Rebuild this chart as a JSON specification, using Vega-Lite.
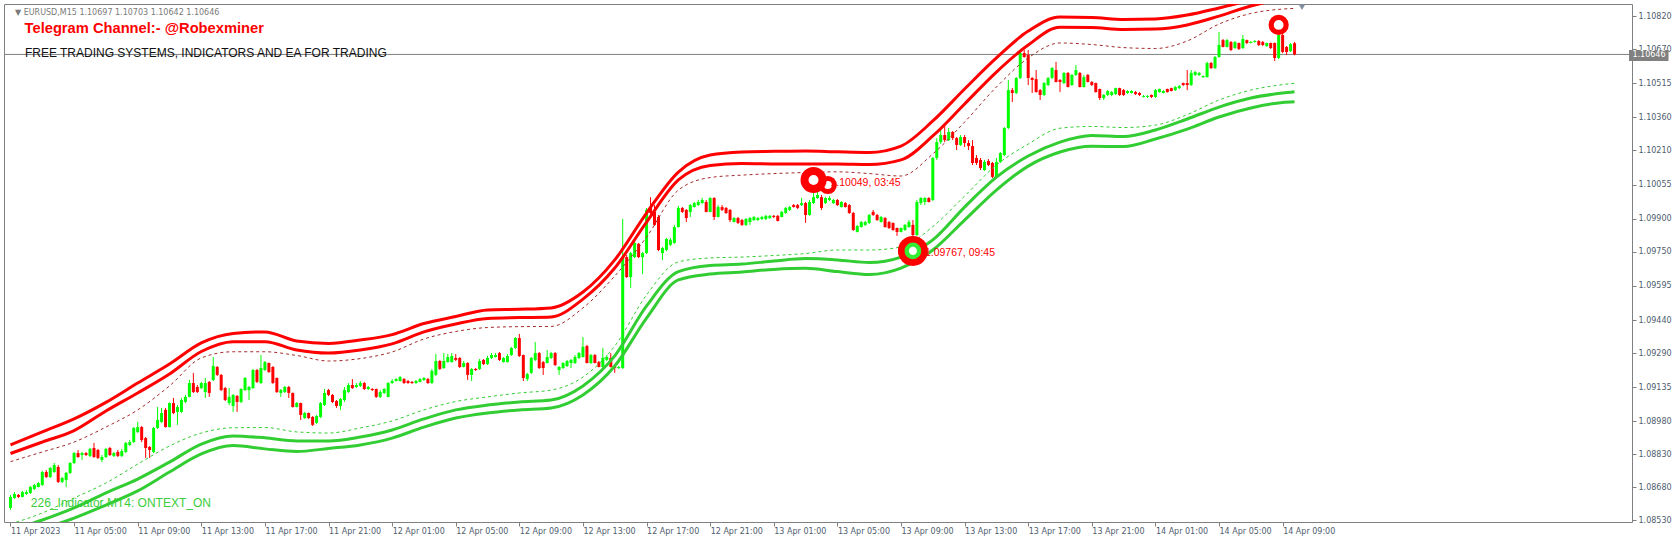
{
"$schema":"https://vega.github.io/schema/vega-lite/v6.json",
"width":1628,"height":518,
"autosize":{"type":"none"},
"padding":{"left":4,"top":4,"right":48,"bottom":23},
"background":"white",
"config":{"view":{"stroke":"#808080","strokeWidth":1},"axis":{"grid":false,"domain":false,"labelOverlap":false,"labelSeparation":0,"labelBound":false}},
"datasets":{
"candles":[
{"t":"2023-04-11T01:00","o":1.08587,"h":1.08646,"l":1.08578,"c":1.08637},
{"t":"2023-04-11T01:15","o":1.08632,"h":1.08659,"l":1.08628,"c":1.08650},
{"t":"2023-04-11T01:30","o":1.08646,"h":1.08650,"l":1.08632,"c":1.08637},
{"t":"2023-04-11T01:45","o":1.08637,"h":1.08664,"l":1.08635,"c":1.08659},
{"t":"2023-04-11T02:00","o":1.08650,"h":1.08668,"l":1.08646,"c":1.08659},
{"t":"2023-04-11T02:15","o":1.08655,"h":1.08687,"l":1.08650,"c":1.08682},
{"t":"2023-04-11T02:30","o":1.08673,"h":1.08696,"l":1.08668,"c":1.08691},
{"t":"2023-04-11T02:45","o":1.08682,"h":1.08705,"l":1.08680,"c":1.08700},
{"t":"2023-04-11T03:00","o":1.08691,"h":1.08755,"l":1.08687,"c":1.08750},
{"t":"2023-04-11T03:15","o":1.08750,"h":1.08759,"l":1.08723,"c":1.08727},
{"t":"2023-04-11T03:30","o":1.08727,"h":1.08773,"l":1.08723,"c":1.08768},
{"t":"2023-04-11T03:45","o":1.08750,"h":1.08791,"l":1.08746,"c":1.08782},
{"t":"2023-04-11T04:00","o":1.08773,"h":1.08782,"l":1.08700,"c":1.08705},
{"t":"2023-04-11T04:15","o":1.08705,"h":1.08727,"l":1.08700,"c":1.08723},
{"t":"2023-04-11T04:30","o":1.08714,"h":1.08750,"l":1.08682,"c":1.08746},
{"t":"2023-04-11T04:45","o":1.08746,"h":1.08795,"l":1.08741,"c":1.08791},
{"t":"2023-04-11T05:00","o":1.08791,"h":1.08841,"l":1.08786,"c":1.08836},
{"t":"2023-04-11T05:15","o":1.08836,"h":1.08850,"l":1.08814,"c":1.08818},
{"t":"2023-04-11T05:30","o":1.08827,"h":1.08841,"l":1.08805,"c":1.08836},
{"t":"2023-04-11T05:45","o":1.08836,"h":1.08841,"l":1.08823,"c":1.08827},
{"t":"2023-04-11T06:00","o":1.08823,"h":1.08859,"l":1.08818,"c":1.08855},
{"t":"2023-04-11T06:15","o":1.08859,"h":1.08882,"l":1.08814,"c":1.08818},
{"t":"2023-04-11T06:30","o":1.08850,"h":1.08855,"l":1.08809,"c":1.08814},
{"t":"2023-04-11T06:45","o":1.08805,"h":1.08827,"l":1.08795,"c":1.08818},
{"t":"2023-04-11T07:00","o":1.08818,"h":1.08859,"l":1.08814,"c":1.08855},
{"t":"2023-04-11T07:15","o":1.08859,"h":1.08864,"l":1.08823,"c":1.08827},
{"t":"2023-04-11T07:30","o":1.08823,"h":1.08841,"l":1.08818,"c":1.08836},
{"t":"2023-04-11T07:45","o":1.08841,"h":1.08850,"l":1.08818,"c":1.08823},
{"t":"2023-04-11T08:00","o":1.08823,"h":1.08855,"l":1.08818,"c":1.08845},
{"t":"2023-04-11T08:15","o":1.08841,"h":1.08886,"l":1.08836,"c":1.08882},
{"t":"2023-04-11T08:30","o":1.08873,"h":1.08895,"l":1.08868,"c":1.08886},
{"t":"2023-04-11T08:45","o":1.08886,"h":1.08954,"l":1.08882,"c":1.08950},
{"t":"2023-04-11T09:00","o":1.08932,"h":1.08977,"l":1.08927,"c":1.08954},
{"t":"2023-04-11T09:15","o":1.08954,"h":1.08959,"l":1.08886,"c":1.08895},
{"t":"2023-04-11T09:30","o":1.08904,"h":1.08909,"l":1.08814,"c":1.08859},
{"t":"2023-04-11T09:45","o":1.08864,"h":1.08868,"l":1.08814,"c":1.08850},
{"t":"2023-04-11T10:00","o":1.08841,"h":1.08954,"l":1.08836,"c":1.08950},
{"t":"2023-04-11T10:15","o":1.08950,"h":1.09045,"l":1.08945,"c":1.08986},
{"t":"2023-04-11T10:30","o":1.08977,"h":1.09041,"l":1.08973,"c":1.09018},
{"t":"2023-04-11T10:45","o":1.09032,"h":1.09041,"l":1.08952,"c":1.08954},
{"t":"2023-04-11T11:00","o":1.08954,"h":1.09066,"l":1.08952,"c":1.09063},
{"t":"2023-04-11T11:15","o":1.09063,"h":1.09086,"l":1.09013,"c":1.09018},
{"t":"2023-04-11T11:30","o":1.09023,"h":1.09054,"l":1.08964,"c":1.09045},
{"t":"2023-04-11T11:45","o":1.09023,"h":1.09086,"l":1.09018,"c":1.09077},
{"t":"2023-04-11T12:00","o":1.09068,"h":1.09100,"l":1.09063,"c":1.09091},
{"t":"2023-04-11T12:15","o":1.09091,"h":1.09168,"l":1.09089,"c":1.09154},
{"t":"2023-04-11T12:30","o":1.09154,"h":1.09200,"l":1.09109,"c":1.09113},
{"t":"2023-04-11T12:45","o":1.09136,"h":1.09145,"l":1.09109,"c":1.09113},
{"t":"2023-04-11T13:00","o":1.09131,"h":1.09159,"l":1.09127,"c":1.09154},
{"t":"2023-04-11T13:15","o":1.09113,"h":1.09177,"l":1.09086,"c":1.09154},
{"t":"2023-04-11T13:30","o":1.09159,"h":1.09163,"l":1.09091,"c":1.09109},
{"t":"2023-04-11T13:45","o":1.09168,"h":1.09272,"l":1.09163,"c":1.09231},
{"t":"2023-04-11T14:00","o":1.09227,"h":1.09231,"l":1.09186,"c":1.09191},
{"t":"2023-04-11T14:15","o":1.09191,"h":1.09195,"l":1.09118,"c":1.09122},
{"t":"2023-04-11T14:30","o":1.09131,"h":1.09136,"l":1.09072,"c":1.09077},
{"t":"2023-04-11T14:45","o":1.09063,"h":1.09131,"l":1.09054,"c":1.09091},
{"t":"2023-04-11T15:00","o":1.09050,"h":1.09104,"l":1.09023,"c":1.09100},
{"t":"2023-04-11T15:15","o":1.09095,"h":1.09100,"l":1.09023,"c":1.09068},
{"t":"2023-04-11T15:30","o":1.09068,"h":1.09131,"l":1.09063,"c":1.09127},
{"t":"2023-04-11T15:45","o":1.09122,"h":1.09181,"l":1.09118,"c":1.09177},
{"t":"2023-04-11T16:00","o":1.09122,"h":1.09141,"l":1.09077,"c":1.09136},
{"t":"2023-04-11T16:15","o":1.09131,"h":1.09218,"l":1.09127,"c":1.09213},
{"t":"2023-04-11T16:30","o":1.09213,"h":1.09218,"l":1.09154,"c":1.09159},
{"t":"2023-04-11T16:45","o":1.09154,"h":1.09281,"l":1.09150,"c":1.09222},
{"t":"2023-04-11T17:00","o":1.09213,"h":1.09254,"l":1.09209,"c":1.09249},
{"t":"2023-04-11T17:15","o":1.09245,"h":1.09247,"l":1.09200,"c":1.09204},
{"t":"2023-04-11T17:30","o":1.09227,"h":1.09231,"l":1.09150,"c":1.09154},
{"t":"2023-04-11T17:45","o":1.09177,"h":1.09179,"l":1.09109,"c":1.09113},
{"t":"2023-04-11T18:00","o":1.09109,"h":1.09127,"l":1.09091,"c":1.09122},
{"t":"2023-04-11T18:15","o":1.09113,"h":1.09141,"l":1.09109,"c":1.09136},
{"t":"2023-04-11T18:30","o":1.09136,"h":1.09141,"l":1.09086,"c":1.09109},
{"t":"2023-04-11T18:45","o":1.09109,"h":1.09111,"l":1.09043,"c":1.09045},
{"t":"2023-04-11T19:00","o":1.09045,"h":1.09068,"l":1.09043,"c":1.09063},
{"t":"2023-04-11T19:15","o":1.09063,"h":1.09065,"l":1.08986,"c":1.09009},
{"t":"2023-04-11T19:30","o":1.08995,"h":1.09023,"l":1.08991,"c":1.09018},
{"t":"2023-04-11T19:45","o":1.09018,"h":1.09020,"l":1.08991,"c":1.08995},
{"t":"2023-04-11T20:00","o":1.09000,"h":1.09004,"l":1.08959,"c":1.08964},
{"t":"2023-04-11T20:15","o":1.08973,"h":1.09009,"l":1.08968,"c":1.09004},
{"t":"2023-04-11T20:30","o":1.09000,"h":1.09068,"l":1.08995,"c":1.09063},
{"t":"2023-04-11T20:45","o":1.09054,"h":1.09127,"l":1.09050,"c":1.09109},
{"t":"2023-04-11T21:00","o":1.09122,"h":1.09127,"l":1.09095,"c":1.09100},
{"t":"2023-04-11T21:15","o":1.09100,"h":1.09104,"l":1.09063,"c":1.09068},
{"t":"2023-04-11T21:30","o":1.09072,"h":1.09077,"l":1.09041,"c":1.09050},
{"t":"2023-04-11T21:45","o":1.09050,"h":1.09086,"l":1.09032,"c":1.09082},
{"t":"2023-04-11T22:00","o":1.09077,"h":1.09136,"l":1.09068,"c":1.09122},
{"t":"2023-04-11T22:15","o":1.09113,"h":1.09154,"l":1.09109,"c":1.09145},
{"t":"2023-04-11T22:30","o":1.09145,"h":1.09172,"l":1.09127,"c":1.09131},
{"t":"2023-04-11T22:45","o":1.09136,"h":1.09154,"l":1.09131,"c":1.09145},
{"t":"2023-04-11T23:00","o":1.09141,"h":1.09163,"l":1.09136,"c":1.09154},
{"t":"2023-04-11T23:15","o":1.09154,"h":1.09159,"l":1.09122,"c":1.09127},
{"t":"2023-04-11T23:30","o":1.09127,"h":1.09141,"l":1.09122,"c":1.09136},
{"t":"2023-04-11T23:45","o":1.09127,"h":1.09131,"l":1.09118,"c":1.09122},
{"t":"2023-04-12T00:00","o":1.09127,"h":1.09129,"l":1.09086,"c":1.09091},
{"t":"2023-04-12T00:15","o":1.09091,"h":1.09122,"l":1.09086,"c":1.09113},
{"t":"2023-04-12T00:30","o":1.09109,"h":1.09131,"l":1.09104,"c":1.09127},
{"t":"2023-04-12T00:45","o":1.09091,"h":1.09159,"l":1.09089,"c":1.09154},
{"t":"2023-04-12T01:00","o":1.09154,"h":1.09172,"l":1.09150,"c":1.09163},
{"t":"2023-04-12T01:15","o":1.09163,"h":1.09177,"l":1.09161,"c":1.09172},
{"t":"2023-04-12T01:30","o":1.09163,"h":1.09186,"l":1.09161,"c":1.09181},
{"t":"2023-04-12T01:45","o":1.09172,"h":1.09177,"l":1.09150,"c":1.09154},
{"t":"2023-04-12T02:00","o":1.09163,"h":1.09168,"l":1.09150,"c":1.09154},
{"t":"2023-04-12T02:15","o":1.09159,"h":1.09163,"l":1.09150,"c":1.09154},
{"t":"2023-04-12T02:30","o":1.09154,"h":1.09168,"l":1.09150,"c":1.09163},
{"t":"2023-04-12T02:45","o":1.09159,"h":1.09177,"l":1.09157,"c":1.09172},
{"t":"2023-04-12T03:00","o":1.09168,"h":1.09181,"l":1.09163,"c":1.09177},
{"t":"2023-04-12T03:15","o":1.09172,"h":1.09177,"l":1.09150,"c":1.09154},
{"t":"2023-04-12T03:30","o":1.09154,"h":1.09218,"l":1.09150,"c":1.09209},
{"t":"2023-04-12T03:45","o":1.09191,"h":1.09286,"l":1.09186,"c":1.09254},
{"t":"2023-04-12T04:00","o":1.09254,"h":1.09259,"l":1.09213,"c":1.09218},
{"t":"2023-04-12T04:15","o":1.09222,"h":1.09290,"l":1.09218,"c":1.09254},
{"t":"2023-04-12T04:30","o":1.09249,"h":1.09286,"l":1.09247,"c":1.09272},
{"t":"2023-04-12T04:45","o":1.09249,"h":1.09290,"l":1.09247,"c":1.09277},
{"t":"2023-04-12T05:00","o":1.09268,"h":1.09286,"l":1.09254,"c":1.09259},
{"t":"2023-04-12T05:15","o":1.09268,"h":1.09272,"l":1.09222,"c":1.09227},
{"t":"2023-04-12T05:30","o":1.09227,"h":1.09254,"l":1.09225,"c":1.09245},
{"t":"2023-04-12T05:45","o":1.09245,"h":1.09249,"l":1.09168,"c":1.09191},
{"t":"2023-04-12T06:00","o":1.09191,"h":1.09222,"l":1.09163,"c":1.09218},
{"t":"2023-04-12T06:15","o":1.09218,"h":1.09222,"l":1.09209,"c":1.09213},
{"t":"2023-04-12T06:30","o":1.09218,"h":1.09263,"l":1.09213,"c":1.09254},
{"t":"2023-04-12T06:45","o":1.09259,"h":1.09263,"l":1.09236,"c":1.09240},
{"t":"2023-04-12T07:00","o":1.09240,"h":1.09277,"l":1.09236,"c":1.09268},
{"t":"2023-04-12T07:15","o":1.09268,"h":1.09290,"l":1.09263,"c":1.09281},
{"t":"2023-04-12T07:30","o":1.09272,"h":1.09290,"l":1.09270,"c":1.09281},
{"t":"2023-04-12T07:45","o":1.09290,"h":1.09295,"l":1.09254,"c":1.09259},
{"t":"2023-04-12T08:00","o":1.09249,"h":1.09272,"l":1.09247,"c":1.09268},
{"t":"2023-04-12T08:15","o":1.09249,"h":1.09286,"l":1.09247,"c":1.09277},
{"t":"2023-04-12T08:30","o":1.09281,"h":1.09318,"l":1.09277,"c":1.09313},
{"t":"2023-04-12T08:45","o":1.09313,"h":1.09363,"l":1.09308,"c":1.09358},
{"t":"2023-04-12T09:00","o":1.09358,"h":1.09377,"l":1.09272,"c":1.09277},
{"t":"2023-04-12T09:15","o":1.09281,"h":1.09283,"l":1.09163,"c":1.09177},
{"t":"2023-04-12T09:30","o":1.09172,"h":1.09200,"l":1.09163,"c":1.09195},
{"t":"2023-04-12T09:45","o":1.09200,"h":1.09272,"l":1.09195,"c":1.09268},
{"t":"2023-04-12T10:00","o":1.09259,"h":1.09340,"l":1.09254,"c":1.09290},
{"t":"2023-04-12T10:15","o":1.09290,"h":1.09295,"l":1.09218,"c":1.09222},
{"t":"2023-04-12T10:30","o":1.09249,"h":1.09254,"l":1.09191,"c":1.09222},
{"t":"2023-04-12T10:45","o":1.09245,"h":1.09304,"l":1.09243,"c":1.09272},
{"t":"2023-04-12T11:00","o":1.09268,"h":1.09295,"l":1.09263,"c":1.09290},
{"t":"2023-04-12T11:15","o":1.09290,"h":1.09295,"l":1.09231,"c":1.09236},
{"t":"2023-04-12T11:30","o":1.09213,"h":1.09231,"l":1.09191,"c":1.09227},
{"t":"2023-04-12T11:45","o":1.09222,"h":1.09249,"l":1.09218,"c":1.09245},
{"t":"2023-04-12T12:00","o":1.09231,"h":1.09259,"l":1.09227,"c":1.09254},
{"t":"2023-04-12T12:15","o":1.09245,"h":1.09263,"l":1.09222,"c":1.09259},
{"t":"2023-04-12T12:30","o":1.09245,"h":1.09281,"l":1.09240,"c":1.09272},
{"t":"2023-04-12T12:45","o":1.09268,"h":1.09295,"l":1.09263,"c":1.09290},
{"t":"2023-04-12T13:00","o":1.09272,"h":1.09363,"l":1.09270,"c":1.09318},
{"t":"2023-04-12T13:15","o":1.09322,"h":1.09327,"l":1.09243,"c":1.09245},
{"t":"2023-04-12T13:30","o":1.09245,"h":1.09286,"l":1.09240,"c":1.09281},
{"t":"2023-04-12T13:45","o":1.09281,"h":1.09286,"l":1.09243,"c":1.09245},
{"t":"2023-04-12T14:00","o":1.09249,"h":1.09254,"l":1.09225,"c":1.09227},
{"t":"2023-04-12T14:15","o":1.09227,"h":1.09313,"l":1.09225,"c":1.09268},
{"t":"2023-04-12T14:30","o":1.09259,"h":1.09281,"l":1.09254,"c":1.09272},
{"t":"2023-04-12T14:45","o":1.09268,"h":1.09290,"l":1.09225,"c":1.09227},
{"t":"2023-04-12T15:00","o":1.09227,"h":1.09231,"l":1.09200,"c":1.09222},
{"t":"2023-04-12T15:15","o":1.09222,"h":1.09231,"l":1.09218,"c":1.09227},
{"t":"2023-04-12T15:30","o":1.09222,"h":1.09899,"l":1.09218,"c":1.09726},
{"t":"2023-04-12T15:45","o":1.09726,"h":1.09735,"l":1.09631,"c":1.09635},
{"t":"2023-04-12T16:00","o":1.09635,"h":1.09749,"l":1.09586,"c":1.09744},
{"t":"2023-04-12T16:15","o":1.09726,"h":1.09794,"l":1.09721,"c":1.09790},
{"t":"2023-04-12T16:30","o":1.09786,"h":1.09790,"l":1.09721,"c":1.09726},
{"t":"2023-04-12T16:45","o":1.09726,"h":1.09749,"l":1.09649,"c":1.09744},
{"t":"2023-04-12T17:00","o":1.09744,"h":1.09949,"l":1.09740,"c":1.09940},
{"t":"2023-04-12T17:15","o":1.09949,"h":1.09998,"l":1.09922,"c":1.09926},
{"t":"2023-04-12T17:30","o":1.09931,"h":1.09962,"l":1.09867,"c":1.09872},
{"t":"2023-04-12T17:45","o":1.09908,"h":1.09917,"l":1.09753,"c":1.09758},
{"t":"2023-04-12T18:00","o":1.09744,"h":1.09772,"l":1.09712,"c":1.09767},
{"t":"2023-04-12T18:15","o":1.09758,"h":1.09813,"l":1.09753,"c":1.09808},
{"t":"2023-04-12T18:30","o":1.09781,"h":1.09813,"l":1.09776,"c":1.09804},
{"t":"2023-04-12T18:45","o":1.09790,"h":1.09872,"l":1.09786,"c":1.09862},
{"t":"2023-04-12T19:00","o":1.09862,"h":1.09958,"l":1.09860,"c":1.09949},
{"t":"2023-04-12T19:15","o":1.09949,"h":1.09953,"l":1.09926,"c":1.09931},
{"t":"2023-04-12T19:30","o":1.09940,"h":1.09944,"l":1.09885,"c":1.09903},
{"t":"2023-04-12T19:45","o":1.09931,"h":1.09967,"l":1.09908,"c":1.09962},
{"t":"2023-04-12T20:00","o":1.09953,"h":1.09976,"l":1.09951,"c":1.09971},
{"t":"2023-04-12T20:15","o":1.09962,"h":1.09985,"l":1.09958,"c":1.09976},
{"t":"2023-04-12T20:30","o":1.09971,"h":1.09994,"l":1.09967,"c":1.09985},
{"t":"2023-04-12T20:45","o":1.09976,"h":1.09985,"l":1.09929,"c":1.09931},
{"t":"2023-04-12T21:00","o":1.09931,"h":1.09998,"l":1.09929,"c":1.09994},
{"t":"2023-04-12T21:15","o":1.09994,"h":1.09998,"l":1.09894,"c":1.09908},
{"t":"2023-04-12T21:30","o":1.09908,"h":1.09962,"l":1.09906,"c":1.09953},
{"t":"2023-04-12T21:45","o":1.09953,"h":1.09962,"l":1.09935,"c":1.09940},
{"t":"2023-04-12T22:00","o":1.09949,"h":1.09953,"l":1.09922,"c":1.09926},
{"t":"2023-04-12T22:15","o":1.09940,"h":1.09944,"l":1.09885,"c":1.09894},
{"t":"2023-04-12T22:30","o":1.09885,"h":1.09908,"l":1.09883,"c":1.09903},
{"t":"2023-04-12T22:45","o":1.09903,"h":1.09908,"l":1.09876,"c":1.09881},
{"t":"2023-04-12T23:00","o":1.09894,"h":1.09899,"l":1.09867,"c":1.09872},
{"t":"2023-04-12T23:15","o":1.09872,"h":1.09903,"l":1.09867,"c":1.09899},
{"t":"2023-04-12T23:30","o":1.09885,"h":1.09908,"l":1.09872,"c":1.09903},
{"t":"2023-04-12T23:45","o":1.09894,"h":1.09913,"l":1.09890,"c":1.09908},
{"t":"2023-04-13T00:00","o":1.09894,"h":1.09908,"l":1.09890,"c":1.09903},
{"t":"2023-04-13T00:15","o":1.09899,"h":1.09913,"l":1.09894,"c":1.09908},
{"t":"2023-04-13T00:30","o":1.09899,"h":1.09917,"l":1.09894,"c":1.09913},
{"t":"2023-04-13T00:45","o":1.09903,"h":1.09917,"l":1.09899,"c":1.09913},
{"t":"2023-04-13T01:00","o":1.09913,"h":1.09917,"l":1.09903,"c":1.09908},
{"t":"2023-04-13T01:15","o":1.09913,"h":1.09917,"l":1.09888,"c":1.09890},
{"t":"2023-04-13T01:30","o":1.09908,"h":1.09935,"l":1.09906,"c":1.09931},
{"t":"2023-04-13T01:45","o":1.09926,"h":1.09953,"l":1.09922,"c":1.09949},
{"t":"2023-04-13T02:00","o":1.09940,"h":1.09958,"l":1.09935,"c":1.09953},
{"t":"2023-04-13T02:15","o":1.09962,"h":1.09967,"l":1.09951,"c":1.09953},
{"t":"2023-04-13T02:30","o":1.09962,"h":1.09967,"l":1.09944,"c":1.09949},
{"t":"2023-04-13T02:45","o":1.09962,"h":1.09994,"l":1.09958,"c":1.09971},
{"t":"2023-04-13T03:00","o":1.09971,"h":1.09976,"l":1.09881,"c":1.09917},
{"t":"2023-04-13T03:15","o":1.09917,"h":1.09985,"l":1.09913,"c":1.09976},
{"t":"2023-04-13T03:30","o":1.09971,"h":1.10017,"l":1.09967,"c":1.09998},
{"t":"2023-04-13T03:45","o":1.09994,"h":1.10049,"l":1.09990,"c":1.10008},
{"t":"2023-04-13T04:00","o":1.09998,"h":1.10008,"l":1.09940,"c":1.09949},
{"t":"2023-04-13T04:15","o":1.09971,"h":1.09998,"l":1.09967,"c":1.09994},
{"t":"2023-04-13T04:30","o":1.09985,"h":1.10003,"l":1.09980,"c":1.09994},
{"t":"2023-04-13T04:45","o":1.09971,"h":1.09990,"l":1.09967,"c":1.09985},
{"t":"2023-04-13T05:00","o":1.09985,"h":1.09990,"l":1.09958,"c":1.09962},
{"t":"2023-04-13T05:15","o":1.09953,"h":1.09980,"l":1.09951,"c":1.09976},
{"t":"2023-04-13T05:30","o":1.09971,"h":1.09976,"l":1.09951,"c":1.09953},
{"t":"2023-04-13T05:45","o":1.09962,"h":1.09967,"l":1.09922,"c":1.09926},
{"t":"2023-04-13T06:00","o":1.09926,"h":1.09931,"l":1.09845,"c":1.09849},
{"t":"2023-04-13T06:15","o":1.09840,"h":1.09872,"l":1.09838,"c":1.09867},
{"t":"2023-04-13T06:30","o":1.09862,"h":1.09890,"l":1.09860,"c":1.09885},
{"t":"2023-04-13T06:45","o":1.09872,"h":1.09890,"l":1.09867,"c":1.09885},
{"t":"2023-04-13T07:00","o":1.09881,"h":1.09922,"l":1.09876,"c":1.09917},
{"t":"2023-04-13T07:15","o":1.09931,"h":1.09940,"l":1.09913,"c":1.09917},
{"t":"2023-04-13T07:30","o":1.09917,"h":1.09922,"l":1.09890,"c":1.09894},
{"t":"2023-04-13T07:45","o":1.09885,"h":1.09913,"l":1.09883,"c":1.09908},
{"t":"2023-04-13T08:00","o":1.09903,"h":1.09908,"l":1.09860,"c":1.09862},
{"t":"2023-04-13T08:15","o":1.09885,"h":1.09890,"l":1.09853,"c":1.09858},
{"t":"2023-04-13T08:30","o":1.09881,"h":1.09883,"l":1.09845,"c":1.09849},
{"t":"2023-04-13T08:45","o":1.09858,"h":1.09860,"l":1.09822,"c":1.09840},
{"t":"2023-04-13T09:00","o":1.09840,"h":1.09860,"l":1.09838,"c":1.09858},
{"t":"2023-04-13T09:15","o":1.09849,"h":1.09876,"l":1.09845,"c":1.09872},
{"t":"2023-04-13T09:30","o":1.09862,"h":1.09894,"l":1.09860,"c":1.09885},
{"t":"2023-04-13T09:45","o":1.09872,"h":1.09894,"l":1.09767,"c":1.09826},
{"t":"2023-04-13T10:00","o":1.09826,"h":1.09985,"l":1.09822,"c":1.09976},
{"t":"2023-04-13T10:15","o":1.09971,"h":1.09998,"l":1.09962,"c":1.09994},
{"t":"2023-04-13T10:30","o":1.09976,"h":1.09998,"l":1.09962,"c":1.09994},
{"t":"2023-04-13T10:45","o":1.09994,"h":1.09998,"l":1.09974,"c":1.09976},
{"t":"2023-04-13T11:00","o":1.09985,"h":1.10180,"l":1.09980,"c":1.10176},
{"t":"2023-04-13T11:15","o":1.10176,"h":1.10266,"l":1.10167,"c":1.10248},
{"t":"2023-04-13T11:30","o":1.10248,"h":1.10303,"l":1.10239,"c":1.10280},
{"t":"2023-04-13T11:45","o":1.10280,"h":1.10321,"l":1.10248,"c":1.10257},
{"t":"2023-04-13T12:00","o":1.10257,"h":1.10312,"l":1.10253,"c":1.10294},
{"t":"2023-04-13T12:15","o":1.10294,"h":1.10298,"l":1.10257,"c":1.10266},
{"t":"2023-04-13T12:30","o":1.10266,"h":1.10271,"l":1.10212,"c":1.10235},
{"t":"2023-04-13T12:45","o":1.10235,"h":1.10280,"l":1.10230,"c":1.10271},
{"t":"2023-04-13T13:00","o":1.10271,"h":1.10280,"l":1.10226,"c":1.10244},
{"t":"2023-04-13T13:15","o":1.10244,"h":1.10257,"l":1.10212,"c":1.10230},
{"t":"2023-04-13T13:30","o":1.10230,"h":1.10257,"l":1.10144,"c":1.10153},
{"t":"2023-04-13T13:45","o":1.10176,"h":1.10189,"l":1.10144,"c":1.10153},
{"t":"2023-04-13T14:00","o":1.10167,"h":1.10176,"l":1.10121,"c":1.10130},
{"t":"2023-04-13T14:15","o":1.10121,"h":1.10167,"l":1.10117,"c":1.10158},
{"t":"2023-04-13T14:30","o":1.10162,"h":1.10171,"l":1.10139,"c":1.10144},
{"t":"2023-04-13T14:45","o":1.10153,"h":1.10158,"l":1.10085,"c":1.10090},
{"t":"2023-04-13T15:00","o":1.10090,"h":1.10176,"l":1.10085,"c":1.10158},
{"t":"2023-04-13T15:15","o":1.10158,"h":1.10203,"l":1.10153,"c":1.10198},
{"t":"2023-04-13T15:30","o":1.10189,"h":1.10316,"l":1.10185,"c":1.10312},
{"t":"2023-04-13T15:45","o":1.10312,"h":1.10530,"l":1.10307,"c":1.10484},
{"t":"2023-04-13T16:00","o":1.10484,"h":1.10493,"l":1.10430,"c":1.10471},
{"t":"2023-04-13T16:15","o":1.10471,"h":1.10543,"l":1.10466,"c":1.10539},
{"t":"2023-04-13T16:30","o":1.10539,"h":1.10666,"l":1.10534,"c":1.10652},
{"t":"2023-04-13T16:45","o":1.10652,"h":1.10666,"l":1.10632,"c":1.10634},
{"t":"2023-04-13T17:00","o":1.10643,"h":1.10666,"l":1.10507,"c":1.10539},
{"t":"2023-04-13T17:15","o":1.10539,"h":1.10543,"l":1.10471,"c":1.10530},
{"t":"2023-04-13T17:30","o":1.10534,"h":1.10575,"l":1.10473,"c":1.10475},
{"t":"2023-04-13T17:45","o":1.10484,"h":1.10489,"l":1.10439,"c":1.10462},
{"t":"2023-04-13T18:00","o":1.10462,"h":1.10521,"l":1.10457,"c":1.10516},
{"t":"2023-04-13T18:15","o":1.10507,"h":1.10543,"l":1.10503,"c":1.10539},
{"t":"2023-04-13T18:30","o":1.10539,"h":1.10589,"l":1.10534,"c":1.10584},
{"t":"2023-04-13T18:45","o":1.10575,"h":1.10612,"l":1.10519,"c":1.10521},
{"t":"2023-04-13T19:00","o":1.10530,"h":1.10534,"l":1.10475,"c":1.10521},
{"t":"2023-04-13T19:15","o":1.10516,"h":1.10566,"l":1.10512,"c":1.10562},
{"t":"2023-04-13T19:30","o":1.10562,"h":1.10566,"l":1.10496,"c":1.10498},
{"t":"2023-04-13T19:45","o":1.10507,"h":1.10557,"l":1.10503,"c":1.10553},
{"t":"2023-04-13T20:00","o":1.10553,"h":1.10598,"l":1.10548,"c":1.10575},
{"t":"2023-04-13T20:15","o":1.10562,"h":1.10566,"l":1.10496,"c":1.10498},
{"t":"2023-04-13T20:30","o":1.10498,"h":1.10553,"l":1.10496,"c":1.10543},
{"t":"2023-04-13T20:45","o":1.10553,"h":1.10557,"l":1.10519,"c":1.10521},
{"t":"2023-04-13T21:00","o":1.10521,"h":1.10525,"l":1.10503,"c":1.10507},
{"t":"2023-04-13T21:15","o":1.10516,"h":1.10518,"l":1.10473,"c":1.10475},
{"t":"2023-04-13T21:30","o":1.10489,"h":1.10491,"l":1.10439,"c":1.10448},
{"t":"2023-04-13T21:45","o":1.10448,"h":1.10466,"l":1.10439,"c":1.10462},
{"t":"2023-04-13T22:00","o":1.10462,"h":1.10484,"l":1.10457,"c":1.10480},
{"t":"2023-04-13T22:15","o":1.10462,"h":1.10480,"l":1.10457,"c":1.10475},
{"t":"2023-04-13T22:30","o":1.10466,"h":1.10495,"l":1.10462,"c":1.10493},
{"t":"2023-04-13T22:45","o":1.10493,"h":1.10495,"l":1.10457,"c":1.10462},
{"t":"2023-04-13T23:00","o":1.10484,"h":1.10489,"l":1.10457,"c":1.10462},
{"t":"2023-04-13T23:15","o":1.10471,"h":1.10484,"l":1.10466,"c":1.10480},
{"t":"2023-04-13T23:30","o":1.10471,"h":1.10484,"l":1.10469,"c":1.10480},
{"t":"2023-04-13T23:45","o":1.10475,"h":1.10480,"l":1.10462,"c":1.10466},
{"t":"2023-04-14T00:00","o":1.10471,"h":1.10475,"l":1.10457,"c":1.10462},
{"t":"2023-04-14T00:15","o":1.10453,"h":1.10462,"l":1.10451,"c":1.10457},
{"t":"2023-04-14T00:30","o":1.10453,"h":1.10462,"l":1.10448,"c":1.10457},
{"t":"2023-04-14T00:45","o":1.10462,"h":1.10464,"l":1.10448,"c":1.10453},
{"t":"2023-04-14T01:00","o":1.10453,"h":1.10489,"l":1.10448,"c":1.10484},
{"t":"2023-04-14T01:15","o":1.10475,"h":1.10491,"l":1.10473,"c":1.10489},
{"t":"2023-04-14T01:30","o":1.10471,"h":1.10484,"l":1.10469,"c":1.10480},
{"t":"2023-04-14T01:45","o":1.10489,"h":1.10491,"l":1.10473,"c":1.10475},
{"t":"2023-04-14T02:00","o":1.10493,"h":1.10495,"l":1.10478,"c":1.10480},
{"t":"2023-04-14T02:15","o":1.10484,"h":1.10503,"l":1.10480,"c":1.10498},
{"t":"2023-04-14T02:30","o":1.10493,"h":1.10507,"l":1.10489,"c":1.10503},
{"t":"2023-04-14T02:45","o":1.10516,"h":1.10518,"l":1.10503,"c":1.10507},
{"t":"2023-04-14T03:00","o":1.10516,"h":1.10575,"l":1.10484,"c":1.10507},
{"t":"2023-04-14T03:15","o":1.10507,"h":1.10575,"l":1.10503,"c":1.10562},
{"t":"2023-04-14T03:30","o":1.10553,"h":1.10571,"l":1.10548,"c":1.10566},
{"t":"2023-04-14T03:45","o":1.10553,"h":1.10566,"l":1.10548,"c":1.10562},
{"t":"2023-04-14T04:00","o":1.10543,"h":1.10550,"l":1.10539,"c":1.10548},
{"t":"2023-04-14T04:15","o":1.10543,"h":1.10612,"l":1.10541,"c":1.10607},
{"t":"2023-04-14T04:30","o":1.10607,"h":1.10612,"l":1.10580,"c":1.10584},
{"t":"2023-04-14T04:45","o":1.10584,"h":1.10639,"l":1.10580,"c":1.10634},
{"t":"2023-04-14T05:00","o":1.10634,"h":1.10748,"l":1.10632,"c":1.10689},
{"t":"2023-04-14T05:15","o":1.10711,"h":1.10716,"l":1.10678,"c":1.10680},
{"t":"2023-04-14T05:30","o":1.10680,"h":1.10716,"l":1.10678,"c":1.10711},
{"t":"2023-04-14T05:45","o":1.10702,"h":1.10707,"l":1.10661,"c":1.10666},
{"t":"2023-04-14T06:00","o":1.10675,"h":1.10707,"l":1.10671,"c":1.10702},
{"t":"2023-04-14T06:15","o":1.10698,"h":1.10700,"l":1.10666,"c":1.10671},
{"t":"2023-04-14T06:30","o":1.10675,"h":1.10734,"l":1.10671,"c":1.10716},
{"t":"2023-04-14T06:45","o":1.10711,"h":1.10713,"l":1.10693,"c":1.10698},
{"t":"2023-04-14T07:00","o":1.10698,"h":1.10707,"l":1.10696,"c":1.10702},
{"t":"2023-04-14T07:15","o":1.10702,"h":1.10711,"l":1.10700,"c":1.10707},
{"t":"2023-04-14T07:30","o":1.10707,"h":1.10711,"l":1.10684,"c":1.10689},
{"t":"2023-04-14T07:45","o":1.10702,"h":1.10707,"l":1.10684,"c":1.10689},
{"t":"2023-04-14T08:00","o":1.10684,"h":1.10700,"l":1.10680,"c":1.10698},
{"t":"2023-04-14T08:15","o":1.10698,"h":1.10700,"l":1.10671,"c":1.10675},
{"t":"2023-04-14T08:30","o":1.10698,"h":1.10700,"l":1.10616,"c":1.10630},
{"t":"2023-04-14T08:45","o":1.10630,"h":1.10743,"l":1.10625,"c":1.10734},
{"t":"2023-04-14T09:00","o":1.10734,"h":1.10748,"l":1.10652,"c":1.10657},
{"t":"2023-04-14T09:15","o":1.10680,"h":1.10684,"l":1.10643,"c":1.10657},
{"t":"2023-04-14T09:30","o":1.10661,"h":1.10698,"l":1.10657,"c":1.10693},
{"t":"2023-04-14T09:45","o":1.10697,"h":1.10703,"l":1.10642,"c":1.10646}
],
"bands":[
{"t":"2023-04-11T01:00","ro":1.08873,"ri":1.08834,"rd":1.08797,"gd":1.08514,"gi":1.08485,"go":1.08437},
{"t":"2023-04-11T03:00","ro":1.08932,"ri":1.08886,"rd":1.08841,"gd":1.08564,"gi":1.08532,"go":1.08491},
{"t":"2023-04-11T05:00","ro":1.08991,"ri":1.08938,"rd":1.08886,"gd":1.08632,"gi":1.08587,"go":1.08541},
{"t":"2023-04-11T07:00","ro":1.09066,"ri":1.09027,"rd":1.08954,"gd":1.08700,"gi":1.08655,"go":1.08600},
{"t":"2023-04-11T09:00","ro":1.09154,"ri":1.09109,"rd":1.09032,"gd":1.08786,"gi":1.08718,"go":1.08664},
{"t":"2023-04-11T11:00","ro":1.09240,"ri":1.09195,"rd":1.09141,"gd":1.08868,"gi":1.08795,"go":1.08750},
{"t":"2023-04-11T13:00","ro":1.09336,"ri":1.09297,"rd":1.09268,"gd":1.08927,"gi":1.08877,"go":1.08832},
{"t":"2023-04-11T15:00","ro":1.09379,"ri":1.09342,"rd":1.09296,"gd":1.08951,"gi":1.08914,"go":1.08870},
{"t":"2023-04-11T17:00","ro":1.09386,"ri":1.09342,"rd":1.09296,"gd":1.08952,"gi":1.08905,"go":1.08855},
{"t":"2023-04-11T19:00","ro":1.09345,"ri":1.09304,"rd":1.09279,"gd":1.08932,"gi":1.08891,"go":1.08843},
{"t":"2023-04-11T21:00","ro":1.09334,"ri":1.09290,"rd":1.09254,"gd":1.08927,"gi":1.08891,"go":1.08857},
{"t":"2023-04-11T23:00","ro":1.09349,"ri":1.09304,"rd":1.09265,"gd":1.08950,"gi":1.08909,"go":1.08873},
{"t":"2023-04-12T01:00","ro":1.09374,"ri":1.09332,"rd":1.09295,"gd":1.08982,"gi":1.08941,"go":1.08904},
{"t":"2023-04-12T03:00","ro":1.09424,"ri":1.09386,"rd":1.09354,"gd":1.09032,"gi":1.08991,"go":1.08954},
{"t":"2023-04-12T05:00","ro":1.09456,"ri":1.09422,"rd":1.09388,"gd":1.09070,"gi":1.09032,"go":1.08995},
{"t":"2023-04-12T07:00","ro":1.09486,"ri":1.09447,"rd":1.09406,"gd":1.09091,"gi":1.09054,"go":1.09018},
{"t":"2023-04-12T09:00","ro":1.09489,"ri":1.09451,"rd":1.09410,"gd":1.09109,"gi":1.09068,"go":1.09032},
{"t":"2023-04-12T11:00","ro":1.09495,"ri":1.09454,"rd":1.09411,"gd":1.09122,"gi":1.09077,"go":1.09041},
{"t":"2023-04-12T13:00","ro":1.09567,"ri":1.09535,"rd":1.09495,"gd":1.09181,"gi":1.09141,"go":1.09100},
{"t":"2023-04-12T15:00","ro":1.09713,"ri":1.09676,"rd":1.09640,"gd":1.09322,"gi":1.09277,"go":1.09231},
{"t":"2023-04-12T17:00","ro":1.09926,"ri":1.09885,"rd":1.09817,"gd":1.09554,"gi":1.09504,"go":1.09449},
{"t":"2023-04-12T19:00","ro":1.10112,"ri":1.10076,"rd":1.10030,"gd":1.09704,"gi":1.09660,"go":1.09622},
{"t":"2023-04-12T21:00","ro":1.10189,"ri":1.10142,"rd":1.10087,"gd":1.09722,"gi":1.09688,"go":1.09649},
{"t":"2023-04-12T23:00","ro":1.10203,"ri":1.10151,"rd":1.10098,"gd":1.09726,"gi":1.09694,"go":1.09658},
{"t":"2023-04-13T01:00","ro":1.10206,"ri":1.10149,"rd":1.10105,"gd":1.09733,"gi":1.09708,"go":1.09670},
{"t":"2023-04-13T03:00","ro":1.10208,"ri":1.10148,"rd":1.10110,"gd":1.09742,"gi":1.09719,"go":1.09675},
{"t":"2023-04-13T05:00","ro":1.10204,"ri":1.10148,"rd":1.10113,"gd":1.09758,"gi":1.09713,"go":1.09660},
{"t":"2023-04-13T07:00","ro":1.10201,"ri":1.10146,"rd":1.10105,"gd":1.09758,"gi":1.09701,"go":1.09647},
{"t":"2023-04-13T09:00","ro":1.10230,"ri":1.10167,"rd":1.10094,"gd":1.09772,"gi":1.09726,"go":1.09676},
{"t":"2023-04-13T11:00","ro":1.10344,"ri":1.10276,"rd":1.10194,"gd":1.09864,"gi":1.09804,"go":1.09758},
{"t":"2023-04-13T13:00","ro":1.10489,"ri":1.10421,"rd":1.10339,"gd":1.10003,"gi":1.09953,"go":1.09894},
{"t":"2023-04-13T15:00","ro":1.10630,"ri":1.10566,"rd":1.10498,"gd":1.10144,"gi":1.10089,"go":1.10030},
{"t":"2023-04-13T17:00","ro":1.10752,"ri":1.10689,"rd":1.10630,"gd":1.10239,"gi":1.10185,"go":1.10139},
{"t":"2023-04-13T19:00","ro":1.10816,"ri":1.10770,"rd":1.10698,"gd":1.10311,"gi":1.10248,"go":1.10203},
{"t":"2023-04-13T21:00","ro":1.10814,"ri":1.10768,"rd":1.10691,"gd":1.10319,"gi":1.10278,"go":1.10229},
{"t":"2023-04-13T23:00","ro":1.10805,"ri":1.10759,"rd":1.10677,"gd":1.10314,"gi":1.10273,"go":1.10228},
{"t":"2023-04-14T01:00","ro":1.10807,"ri":1.10761,"rd":1.10673,"gd":1.10325,"gi":1.10303,"go":1.10262},
{"t":"2023-04-14T03:00","ro":1.10825,"ri":1.10780,"rd":1.10707,"gd":1.10373,"gi":1.10353,"go":1.10307},
{"t":"2023-04-14T05:00","ro":1.10857,"ri":1.10820,"rd":1.10784,"gd":1.10439,"gi":1.10407,"go":1.10362},
{"t":"2023-04-14T07:00","ro":1.10893,"ri":1.10866,"rd":1.10832,"gd":1.10484,"gi":1.10448,"go":1.10403},
{"t":"2023-04-14T09:00","ro":1.10925,"ri":1.10898,"rd":1.10852,"gd":1.10509,"gi":1.10471,"go":1.10428},
{"t":"2023-04-14T09:45","ro":1.10934,"ri":1.10907,"rd":1.10855,"gd":1.10515,"gi":1.10477,"go":1.10431}
],
"signals":[
{"t":"2023-04-13T03:45","price":1.10049,"side":"high","label":"1.10049, 03:45"},
{"t":"2023-04-13T09:45","price":1.09767,"side":"low","label":"1.09767, 09:45"}
]
},
"layer":[
{"data":{"values":[{}]},
 "mark":{"type":"rule","color":"#808080","strokeWidth":1},
 "encoding":{"y":{"datum":1.10646,"type":"quantitative","title":null,"scale":{"domain":[1.08523,1.10875],"nice":false,"zero":false},
   "axis":{"orient":"right","values":[1.0853,1.0868,1.0883,1.0898,1.09135,1.0929,1.0944,1.09595,1.0975,1.099,1.10055,1.1021,1.1036,1.10515,1.1067,1.1082],
    "tickCount":40,"format":".5f","grid":false,"domain":false,"ticks":true,"tickSize":4,"tickColor":"#808080","labelPadding":2,
    "labelFont":"DejaVu Sans","labelFontSize":8,"labelColor":"#4f5d6e","labelBaseline":"middle","labelFlush":false,"labelOverlap":false}}}},
{"data":{"values":[{}]},
 "mark":{"type":"text","align":"left","baseline":"middle","font":"DejaVu Sans","fontSize":8,"color":"#7a7a7a"},
 "encoding":{"x":{"datum":{"year":2023,"month":4,"date":11,"hours":1,"minutes":16,"seconds":52},"type":"temporal","title":null,
   "scale":{"domain":[{"year":2023,"month":4,"date":11,"hours":0,"minutes":54,"seconds":22,"milliseconds":500},{"year":2023,"month":4,"date":15,"hours":6,"minutes":39,"seconds":22,"milliseconds":500}],"nice":false},
   "axis":{"values":[
    {"year":2023,"month":4,"date":11,"hours":1},{"year":2023,"month":4,"date":11,"hours":5},{"year":2023,"month":4,"date":11,"hours":9},{"year":2023,"month":4,"date":11,"hours":13},{"year":2023,"month":4,"date":11,"hours":17},{"year":2023,"month":4,"date":11,"hours":21},
    {"year":2023,"month":4,"date":12,"hours":1},{"year":2023,"month":4,"date":12,"hours":5},{"year":2023,"month":4,"date":12,"hours":9},{"year":2023,"month":4,"date":12,"hours":13},{"year":2023,"month":4,"date":12,"hours":17},{"year":2023,"month":4,"date":12,"hours":21},
    {"year":2023,"month":4,"date":13,"hours":1},{"year":2023,"month":4,"date":13,"hours":5},{"year":2023,"month":4,"date":13,"hours":9},{"year":2023,"month":4,"date":13,"hours":13},{"year":2023,"month":4,"date":13,"hours":17},{"year":2023,"month":4,"date":13,"hours":21},
    {"year":2023,"month":4,"date":14,"hours":1},{"year":2023,"month":4,"date":14,"hours":5},{"year":2023,"month":4,"date":14,"hours":9}],
    "tickCount":60,
    "labelExpr":"timeFormat(datum.value, '%d %H:%M') == '11 01:00' ? '11 Apr 2023' : timeFormat(datum.value, '%d %b %H:%M')",
    "grid":false,"domain":false,"ticks":true,"tickSize":4,"tickColor":"#808080","labelAlign":"left","labelBaseline":"top","labelPadding":1,"labelDx":1,
    "labelFont":"DejaVu Sans","labelFontSize":8,"labelColor":"#4f5d6e","labelFlush":false,"labelOverlap":false}},
  "y":{"datum":1.10834,"type":"quantitative","title":null},"text":{"value":"▼ EURUSD,M15  1.10697 1.10703 1.10642 1.10646"}}},
{"data":{"values":[{}]},
 "mark":{"type":"text","align":"left","baseline":"alphabetic","font":"Liberation Sans","fontWeight":"bold","fontSize":14.7,"color":"#FF0000"},
 "encoding":{"x":{"datum":{"year":2023,"month":4,"date":11,"hours":1,"minutes":53,"seconds":15},"type":"temporal","title":null},
  "y":{"datum":1.10742,"type":"quantitative","title":null},"text":{"value":"Telegram Channel:- @Robexminer"}}},
{"data":{"values":[{}]},
 "mark":{"type":"text","align":"left","baseline":"alphabetic","font":"Liberation Sans","fontSize":12,"color":"#111111"},
 "encoding":{"x":{"datum":{"year":2023,"month":4,"date":11,"hours":1,"minutes":54,"seconds":22},"type":"temporal","title":null},
  "y":{"datum":1.10633,"type":"quantitative","title":null},"text":{"value":"FREE TRADING SYSTEMS, INDICATORS AND EA FOR TRADING"}}},
{"data":{"values":[{}]},
 "mark":{"type":"text","align":"left","baseline":"alphabetic","font":"Liberation Sans","fontSize":12,"color":"#3ACD3A"},
 "encoding":{"x":{"datum":{"year":2023,"month":4,"date":11,"hours":2,"minutes":16,"seconds":52},"type":"temporal","title":null},
  "y":{"datum":1.08590,"type":"quantitative","title":null},"text":{"value":"226_Indicator MT4: ONTEXT_ON"}}},
{"data":{"name":"candles"},
 "mark":{"type":"rule","strokeWidth":1},
 "encoding":{
  "x":{"field":"t","type":"temporal","title":null},
  "y":{"field":"l","type":"quantitative","title":null},
  "y2":{"field":"h"},
  "color":{"condition":{"test":"datum.c < datum.o","value":"#FF0000"},"value":"#00FF00"}}},
{"data":{"name":"candles"},
 "mark":{"type":"bar","size":3},
 "encoding":{
  "x":{"field":"t","type":"temporal","title":null},
  "y":{"field":"o","type":"quantitative","title":null},
  "y2":{"field":"c"},
  "color":{"condition":{"test":"datum.c < datum.o","value":"#FF0000"},"value":"#00FF00"}}},
{"data":{"name":"bands"},"mark":{"type":"line","color":"#FF0000","strokeWidth":3,"interpolate":"monotone","clip":true},
 "encoding":{"x":{"field":"t","type":"temporal","title":null},"y":{"field":"ro","type":"quantitative","title":null}}},
{"data":{"name":"bands"},"mark":{"type":"line","color":"#FF0000","strokeWidth":3,"interpolate":"monotone","clip":true},
 "encoding":{"x":{"field":"t","type":"temporal","title":null},"y":{"field":"ri","type":"quantitative","title":null}}},
{"data":{"name":"bands"},"mark":{"type":"line","color":"#A52A2A","strokeWidth":1,"strokeDash":[3,3],"interpolate":"monotone","clip":true},
 "encoding":{"x":{"field":"t","type":"temporal","title":null},"y":{"field":"rd","type":"quantitative","title":null}}},
{"data":{"name":"bands"},"mark":{"type":"line","color":"#32CD32","strokeWidth":1,"strokeDash":[3,3],"interpolate":"monotone","clip":true},
 "encoding":{"x":{"field":"t","type":"temporal","title":null},"y":{"field":"gd","type":"quantitative","title":null}}},
{"data":{"name":"bands"},"mark":{"type":"line","color":"#32CD32","strokeWidth":3,"interpolate":"monotone","clip":true},
 "encoding":{"x":{"field":"t","type":"temporal","title":null},"y":{"field":"gi","type":"quantitative","title":null}}},
{"data":{"name":"bands"},"mark":{"type":"line","color":"#32CD32","strokeWidth":3,"interpolate":"monotone","clip":true},
 "encoding":{"x":{"field":"t","type":"temporal","title":null},"y":{"field":"go","type":"quantitative","title":null}}},
{"data":{"name":"signals"},"transform":[{"filter":"datum.side == 'high'"}],
 "mark":{"type":"text","align":"left","baseline":"alphabetic","dx":13,"font":"Liberation Sans","fontSize":10.5,"color":"#FF0000"},
 "encoding":{"x":{"field":"t","type":"temporal","title":null},"y":{"field":"price","type":"quantitative","title":null},"text":{"field":"label"}}},
{"data":{"name":"signals"},"transform":[{"filter":"datum.side == 'low'"}],
 "mark":{"type":"text","align":"left","baseline":"top","dx":12,"font":"Liberation Sans","fontSize":10.5,"color":"#FF0000"},
 "encoding":{"x":{"field":"t","type":"temporal","title":null},"y":{"field":"price","type":"quantitative","title":null},"text":{"field":"label"}}},
{"data":{"values":[{"t":"2023-04-13T03:30","price":1.10076}]},
 "mark":{"type":"point","shape":"circle","filled":false,"color":"#FF0000","strokeWidth":8,"size":324,"opacity":1},
 "encoding":{"x":{"field":"t","type":"temporal","title":null},"y":{"field":"price","type":"quantitative","title":null}}},
{"data":{"values":[{"t":"2023-04-13T04:24","price":1.10053}]},
 "mark":{"type":"point","shape":"circle","filled":false,"color":"#FF0000","strokeWidth":5,"size":169,"opacity":1},
 "encoding":{"x":{"field":"t","type":"temporal","title":null},"y":{"field":"price","type":"quantitative","title":null}}},
{"data":{"values":[{"t":"2023-04-13T09:45","price":1.09754}]},
 "mark":{"type":"point","shape":"circle","filled":true,"color":"#FF0000","size":900,"opacity":1},
 "encoding":{"x":{"field":"t","type":"temporal","title":null},"y":{"field":"price","type":"quantitative","title":null}}},
{"data":{"values":[{"t":"2023-04-13T09:45","price":1.09754}]},
 "mark":{"type":"point","shape":"circle","filled":true,"fill":"#FFFFFF","stroke":"#33EE33","strokeWidth":4.3,"size":154,"opacity":1,"fillOpacity":1},
 "encoding":{"x":{"field":"t","type":"temporal","title":null},"y":{"field":"price","type":"quantitative","title":null}}},
{"data":{"values":[{"t":"2023-04-14T08:45","price":1.10780}]},
 "mark":{"type":"point","shape":"circle","filled":false,"color":"#FF0000","strokeWidth":5.2,"size":225,"opacity":1},
 "encoding":{"x":{"field":"t","type":"temporal","title":null},"y":{"field":"price","type":"quantitative","title":null}}},
{"data":{"values":[{}]},
 "mark":{"type":"point","shape":"triangle-down","filled":true,"color":"#7f8ea0","size":45,"opacity":1},
 "encoding":{"x":{"datum":{"year":2023,"month":4,"date":14,"hours":10,"minutes":13},"type":"temporal","title":null},"y":{"datum":1.10861,"type":"quantitative","title":null}}},
{"data":{"values":[{}]},
 "mark":{"type":"rect","color":"#808080"},
 "encoding":{"x":{"datum":{"year":2023,"month":4,"date":15,"hours":6,"minutes":47},"type":"temporal","title":null},
  "x2":{"datum":{"year":2023,"month":4,"date":15,"hours":9,"minutes":16}},
  "y":{"datum":1.10666,"type":"quantitative","title":null},"y2":{"datum":1.10616}}},
{"data":{"values":[{}]},
 "mark":{"type":"text","align":"left","baseline":"middle","font":"DejaVu Sans","fontSize":8,"color":"#FFFFFF"},
 "encoding":{"x":{"datum":{"year":2023,"month":4,"date":15,"hours":7,"minutes":0},"type":"temporal","title":null},
  "y":{"datum":1.10643,"type":"quantitative","title":null},"text":{"value":"1.10646"}}}
]
}
